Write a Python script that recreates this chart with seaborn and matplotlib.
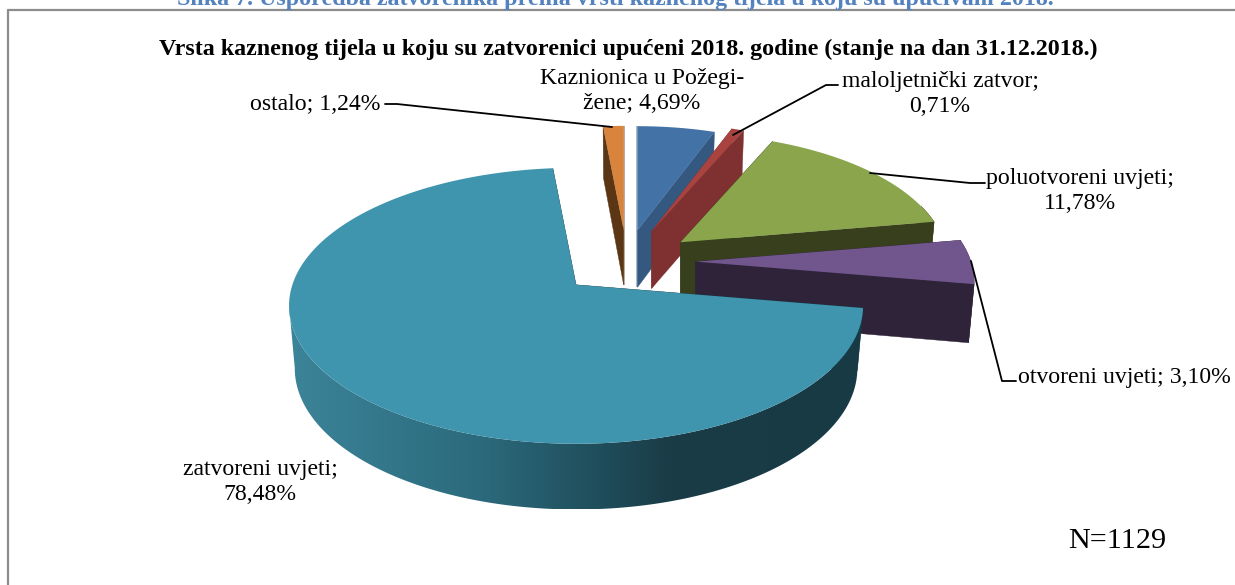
import numpy as np
import matplotlib
matplotlib.use("Agg")
import matplotlib.pyplot as plt
import matplotlib.transforms as mtransforms
from matplotlib.path import Path
from matplotlib.patches import Polygon
from matplotlib.colors import LinearSegmentedColormap
import seaborn as sns

# ---- data ----
categories = ["Kaznionica u Požegi-\nžene", "maloljetnički zatvor", "poluotvoreni uvjeti",
              "otvoreni uvjeti", "zatvoreni uvjeti", "ostalo"]
shares = [4.69, 0.71, 11.78, 3.10, 78.48, 1.24]
share_text = ["4,69%", "0,71%", "11,78%", "3,10%", "78,48%", "1,24%"]
sample_size = 1129
chart_title = "Vrsta kaznenog tijela u koju su zatvorenici upućeni 2018. godine (stanje na dan 31.12.2018.)"
caption = "Slika 7. Usporedba zatvorenika prema vrsti kaznenog tijela u koju su upućivani 2018."

# ---- style ----
top_colors = sns.color_palette(["#4372A7", "#A84340", "#8AA54C", "#71568D", "#3F94AE", "#D9843C"])
wall_colors = ["#34587F", "#7E3130", "#383F1C", "#2E2339", "#193C47", "#5A3615"]
explode = [0.30, 0.30, 0.30, 0.27, 0.30, 0.30]
slice_scale = [0.89, 0.93, 0.93, 0.97, 1.0, 0.89]
slice_depth = [57.0, 57.0, 57.0, 58.0, 62.0, 55.0]
apex_nudge = [(0, 5), (0, 5), (0, 10), (0, 17), (-1, 5), (2, 5)]
paint_order = [5, 0, 1, 2, 3, 4]
CX, CY, R, Y0, K, OFF_Y = 625.0, 255.0, 283.7, 134.8, 0.152, 100.0
WARP_A, WARP_B, SHRINK = 12.0, 21.7, 0.98

sns.set_theme(style="white")
plt.rcParams["font.family"] = ["Liberation Serif", "DejaVu Serif"]
plt.rcParams["text.color"] = "black"
fig = plt.figure(figsize=(12.35, 5.85), dpi=100, facecolor="white")
ax = fig.add_axes([0, 0, 1, 1])


def warp_angle(phi):
    return phi + np.radians(WARP_A) * np.sin(phi) + np.radians(WARP_B) * np.sin(phi) ** 8


class RimWarp(mtransforms.Transform):
    """Tilted 3-D view of one exploded slice: plane units -> pixels."""
    input_dims = output_dims = 2

    def __init__(self, plane_centre, apex, scale):
        super().__init__()
        self.pc, self.apex, self.scale = plane_centre, apex, scale

    def transform_non_affine(self, xy):
        xy = np.asarray(xy, float)
        d = xy - np.asarray(self.pc)
        r = np.hypot(d[:, 0], d[:, 1])
        g = warp_angle(np.arctan2(d[:, 0], d[:, 1]))
        s, c = np.sin(g), np.cos(g)
        w = 1 + K * r * c
        return np.column_stack([self.apex[0] + self.scale * R * r * s / w,
                                self.apex[1] - self.scale * Y0 * r * c / w])

    def transform_path_non_affine(self, path):
        big = 4000.0
        poly = path.to_polygons(mtransforms.Affine2D().scale(big), closed_only=False)[0] / big
        return Path(self.transform_non_affine(poly))


wedges, _ = ax.pie(shares, explode=explode, colors=top_colors, startangle=90,
                   counterclock=False, radius=1.0, wedgeprops=dict(linewidth=0))
ax.set_aspect("auto")
ax.set_xlim(0, 1235)
ax.set_ylim(585, 0)
ax.axis("off")


def lower(pts, apex, cosg, depth):
    out = np.array(pts, float)
    out[:, 0] = apex[0] + (out[:, 0] - apex[0]) * SHRINK
    out[:, 1] = out[:, 1] + depth * (1 - 0.06 * cosg)
    return out


teal_map = LinearSegmentedColormap.from_list("wall", ["#3C8499", "#2B6A7C", "#193C47", "#183A45"])

for z, i in enumerate(paint_order):
    w = wedges[i]
    pc = np.array(w.center)
    nudge = apex_nudge[i]
    apex = (CX + R * pc[0] + nudge[0], CY - OFF_Y * pc[1] + nudge[1])
    tr = RimWarp(pc, apex, slice_scale[i])
    w.set_transform(tr + ax.transData)
    w.set_zorder(10 * z + 5)
    w.set_clip_on(False)

    # clockwise plane angles of the slice edges, from the wedge the pie computed
    a1, a2 = sorted([np.radians(90 - w.theta1), np.radians(90 - w.theta2)])
    phis = np.linspace(a1, a2, 600)
    rim = tr.transform_non_affine(pc + np.column_stack([np.sin(phis), np.cos(phis)]))
    cosg = np.cos(warp_angle(phis))
    apx = np.array([apex])
    # radial walls
    for k in (0, -1):
        top = np.vstack([apx, rim[[k]]])
        bot = lower(top, apex, np.array([0.0, cosg[k]]), slice_depth[i])
        ax.fill(*np.vstack([top, bot[::-1]]).T, color=wall_colors[i], lw=0.3, zorder=10 * z + 1)
    # outer wall, only where it faces the viewer
    keep = cosg <= 0.3
    if i == 4:
        keep[np.argmin(rim[:, 0]) + 1:] = False  # stop at the silhouette on the left
    if keep.sum() > 1:
        low = lower(rim, apex, cosg, slice_depth[i])
        outline = np.vstack([rim[keep], low[keep][::-1]])
        if i == 4:
            x0, x1 = outline[:, 0].min(), outline[:, 0].max()
            y0, y1 = outline[:, 1].min(), outline[:, 1].max()
            grad = np.linspace(0, 1, 512)[None, :]
            im = ax.imshow(grad, extent=(x0, x1, y1, y0), cmap=teal_map, aspect="auto",
                           zorder=10 * z + 2, interpolation="bilinear")
            im.set_clip_path(Polygon(outline, closed=True, transform=ax.transData))
        else:
            ax.fill(*outline.T, color=wall_colors[i], lw=0.3, zorder=10 * z + 2)

ax.set_xlim(0, 1235)
ax.set_ylim(585, 0)

# ---- texts ----
fs = 17.1
ax.text(615, 5, caption, ha="center", va="baseline", fontsize=17.3, fontweight="bold", color="#5482BE", clip_on=True)
ax.text(628, 49.5, chart_title, ha="center", va="center", fontsize=17.3, fontweight="bold", color="black", zorder=200)
ax.plot([8, 8], [585, 10], color="#8C8C8C", lw=1.6, zorder=1)
ax.plot([8, 1235], [10, 10], color="#8C8C8C", lw=1.6, zorder=1)


def lab(i):
    return f"{categories[i]}; {share_text[i]}"


for text, x, y, ha in [(lab(0), 642, 91, "center"),
                       (f"{categories[1]};\n{share_text[1]}", 940, 94, "center"),
                       (f"{categories[2]};\n{share_text[2]}", 1080, 191, "center"),
                       (lab(3), 1018, 377, "left"),
                       (f"{categories[4]};\n{share_text[4]}", 260, 482, "center"),
                       (lab(5), 250, 105, "left")]:
    ax.text(x, y, text, ha=ha, va="center", fontsize=fs, linespacing=1.24, color="black", zorder=200)
ax.text(1117, 541, f"N={sample_size}", ha="center", va="center", fontsize=21.7, color="black", zorder=200)

leaders = [([385, 397, 612], [104, 104, 127]),
           ([838, 826, 733], [85, 85, 135]),
           ([985, 970, 870], [183, 183, 173]),
           ([1016, 1002, 971], [381, 381, 261])]
for xs, ys in leaders:
    ax.plot(xs, ys, color="black", lw=1.3, zorder=150)

fig.savefig("out.png", dpi=100, facecolor="white")
